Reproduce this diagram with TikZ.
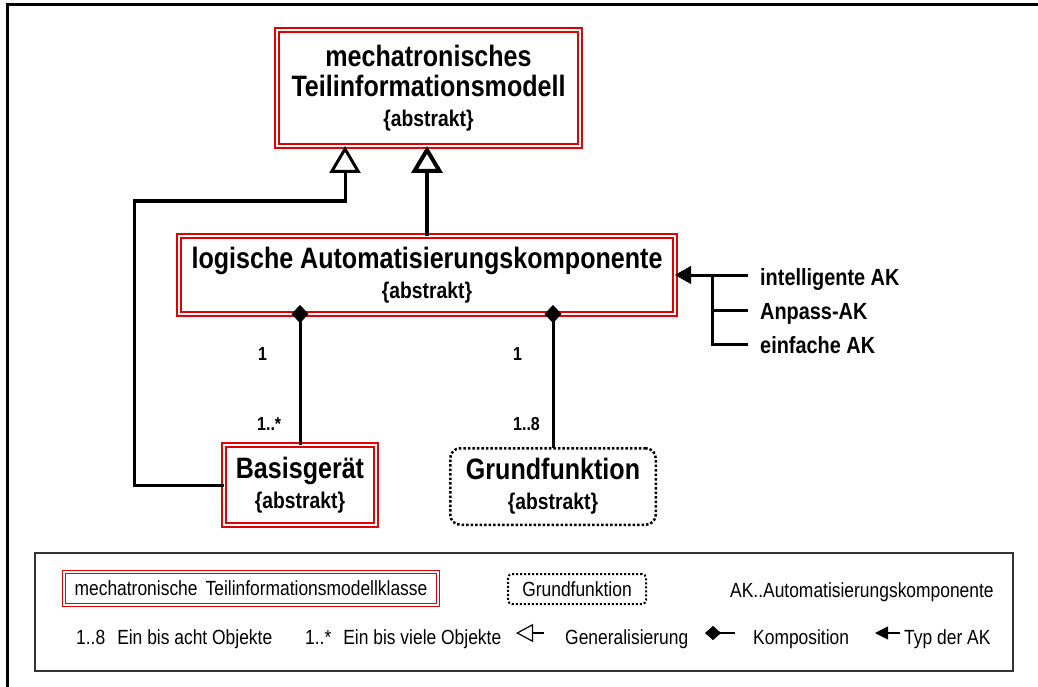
\documentclass[tikz,border=0pt]{standalone}
\usepackage{fontspec}
\setmainfont{Liberation Sans}[FakeStretch=0.85]
\usetikzlibrary{arrows.meta}
\definecolor{umlred}{RGB}{225,0,0}
\newcommand\abstrakt{{\fontsize{22.7}{30}\selectfont\{abstrakt\}}}
\tikzset{
  class/.style={draw=umlred, double=white, double distance=2.5pt, line width=1.7pt,
    inner sep=0pt, outer sep=0pt, align=center, font=\bfseries\fontsize{29.5}{30}\selectfont},
  func/.style={draw, line width=2.5pt, dash pattern=on 2.5pt off 2pt, rounded corners=10pt,
    inner sep=0pt, outer sep=0pt, align=center, font=\bfseries\fontsize{29.5}{30}\selectfont},
  mult/.style={anchor=base west, inner sep=0pt, font=\bfseries\fontsize{18.8}{20}\selectfont},
  aktype/.style={anchor=base west, inner sep=0pt, font=\bfseries\fontsize{23.4}{24}\selectfont},
  lgtext/.style={anchor=base west, inner sep=0pt, font=\fontsize{20.5}{22}\selectfont},
  gen/.style={line width=3pt, -{Triangle[open, length=27pt, width=31pt]}},
  comp/.style={line width=3pt, {Diamond[length=18pt, width=17pt, line width=0.5pt]}-, shorten <=-9pt},
  typ/.style={line width=3pt, -{Triangle[length=16pt, width=18pt, line width=0.5pt]}}
}

\begin{document}
\begin{tikzpicture}[x=1pt, y=-1pt]
\useasboundingbox (0,0) rectangle (1038,687);
% frame
\draw[line width=3pt] (7,690) -- (7,5) -- (1040,5);

% classes
\node[class, minimum width=303pt, minimum height=116pt] (model) at (428.5,88)
  {mechatronisches\\Teilinformationsmodell\\\abstrakt};
\node[class, minimum width=496pt, minimum height=78pt] (logic) at (427,275)
  {logische Automatisierungskomponente\\\abstrakt};
\node[class, minimum width=152pt, minimum height=80pt] (basis) at (300,485)
  {Basisger\"at\\\abstrakt};
\node[func, minimum width=205.5pt, minimum height=76.5pt] (grund) at (553,486.5)
  {Grundfunktion\\\abstrakt};

% generalisation
\coordinate (bend) at (134,201);
\draw[gen] (basis.west) -| (bend) -| ([xshift=-83.5pt]model.south);
\draw[gen, line width=4pt] (logic.north) -- (logic.north |- model.south);

% composition
\draw[comp] (basis.north |- logic.south) -- (basis.north);
\draw[comp] (grund.north |- logic.south) -- (grund.north);
\node[mult] (m1) at (258,360) {1};
\node[mult] (m2) at (257,430) {1..*};
\node[mult] (m3) at (513,360) {1};
\node[mult] (m4) at (513,430) {1..8};

% types of AK
\coordinate (bus) at (712,275);
\coordinate (ak1) at (748,275);
\coordinate (ak2) at (748,310);
\coordinate (ak3) at (748,344);
\draw[typ] (ak1) -- (logic.east);
\draw[line width=3pt] (ak3) -| (bus);
\draw[line width=3pt] (ak2) -- (ak2 -| bus);
\node[aktype] (t1) at (760,285) {intelligente AK};
\node[aktype] (t2) at (760,319) {Anpass-AK};
\node[aktype] (t3) at (760,353) {einfache AK};

% legend
\node[draw=black!80, line width=1.3pt, minimum width=978pt, minimum height=118pt] (legend) at (524,612) {};
\node[class, line width=1.2pt, double distance=2pt, minimum width=374pt, minimum height=33pt,
  font=\fontsize{20.5}{22}\selectfont] (lgclass) at (251,588.5)
  {mechatronische\hspace{8pt}Teilinformationsmodellklasse};
\node[func, line width=2pt, dash pattern=on 2pt off 2pt, rounded corners=4pt, minimum width=138pt,
  minimum height=30pt, font=\fontsize{20.5}{22}\selectfont] (lgfunc) at (577,589) {Grundfunktion};
\node[lgtext] (lgak) at (730,597) {AK..Automatisierungskomponente};
\node[lgtext] (lg18) at (76,644) {1..8\hspace{12pt}Ein bis acht Objekte};
\node[lgtext] (lgmany) at (305,644) {1..*\hspace{12pt}Ein bis viele Objekte};
\node[lgtext] (lggen) at (565,644) {Generalisierung};
\node[lgtext] (lgcomp) at (753,644) {Komposition};
\node[lgtext] (lgtyp) at (904,644) {Typ der AK};
\coordinate (g1) at (544,633);
\coordinate (g2) at (516,633);
\coordinate (k1) at (735,633);
\coordinate (k2) at (705,633);
\coordinate (y1) at (900,633);
\coordinate (y2) at (875,633);
\draw[line width=1.5pt, -{Triangle[open, length=17pt, width=18pt, line width=1.2pt]}] (g1) -- (g2);
\draw[line width=1.5pt, -{Diamond[length=16pt, width=14pt, line width=0.5pt]}] (k1) -- (k2);
\draw[line width=1.5pt, -{Triangle[length=13pt, width=13pt, line width=0.5pt]}] (y1) -- (y2);
\end{tikzpicture}
\end{document}
